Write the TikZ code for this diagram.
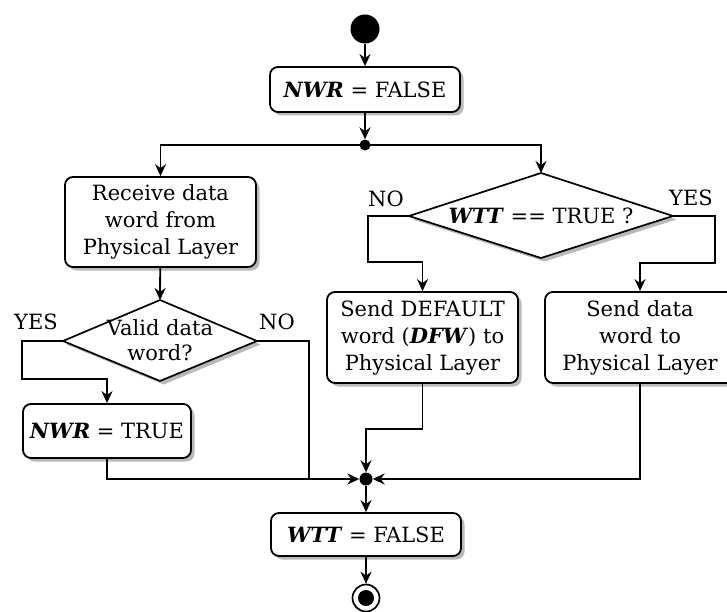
\documentclass[tikz,border=0pt]{standalone}
\usepackage{fontspec}
\setmainfont{DejaVu Serif}
\usetikzlibrary{arrows.meta,shadows}

\newcommand{\varname}[1]{\textbf{\textit{#1}}}

\tikzset{
  shade box/.style={drop shadow={shadow xshift=3.5pt, shadow yshift=-3.5pt, fill=gray!55, opacity=1}},
  actbox/.style={draw, line width=1.8pt, fill=white, rounded corners=8pt, shade box,
    inner sep=0pt, align=center, font=\fontsize{21}{27}\selectfont},
  decision/.style={draw, line width=1.7pt, fill=white, line join=miter, shade box},
  txt/.style={inner sep=0pt, align=center, font=\fontsize{21}{25}\selectfont},
  flow/.style={line width=1.8pt, -{Stealth[length=12pt, width=11pt, inset=4pt]}},
  plain/.style={line width=1.8pt},
  dot/.style={circle, fill=black, inner sep=0pt},
}

\begin{document}
\begin{tikzpicture}[x=1pt, y=-1pt]
\useasboundingbox (0,0) rectangle (727,612);

% start / initial node
\node[dot, minimum size=29pt] (start) at (365,29) {};

% first action
\node[actbox, minimum width=190pt, minimum height=45pt] (nwrf) at (365,89.5) {\varname{NWR} = FALSE};

% fork point
\node[dot, minimum size=11pt] (fork) at (365,145) {};

% left branch: receive
\node[actbox, minimum width=191pt, minimum height=90pt] (recv) at (160.5,222)
  {Receive data\\word from\\Physical Layer};

% decision: valid data word?
\coordinate (vT) at (160,300);
\coordinate (vR) at (257,341);
\coordinate (vB) at (160,381);
\coordinate (vL) at (63,341);
\draw[decision] (vT) -- (vR) -- (vB) -- (vL) -- cycle;
\node[txt] (vtxt) at (160,340) {Valid data\\word?};
\node[txt] (vyes) at (36,322) {YES};
\node[txt] (vno) at (277,322) {NO};

\node[actbox, minimum width=168pt, minimum height=54pt] (nwrt) at (107,431) {\varname{NWR} = TRUE};

% right branch: decision WTT
\coordinate (wT) at (541,173);
\coordinate (wR) at (673,216);
\coordinate (wB) at (541,258);
\coordinate (wL) at (409,216);
\draw[decision] (wT) -- (wR) -- (wB) -- (wL) -- cycle;
\node[txt] (wtxt) at (541,216) {\varname{WTT} == TRUE ?};
\node[txt] (wno) at (386,199) {NO};
\node[txt] (wyes) at (691,198) {YES};

\node[actbox, minimum width=191pt, minimum height=91pt] (dfw) at (422.5,337.5)
  {Send DEFAULT\\word (\varname{DFW}) to\\Physical Layer};
\node[actbox, minimum width=190pt, minimum height=91pt] (send) at (640,337.5)
  {Send data\\word to\\Physical Layer};

% merge point
\node[dot, minimum size=13pt] (merge) at (366,479) {};

% final action
\node[actbox, minimum width=190pt, minimum height=43pt] (wttf) at (366,534.5) {\varname{WTT} = FALSE};

% end node
\node[circle, draw, line width=1.7pt, fill=white, minimum size=27pt, inner sep=0pt] (end) at (366,598) {};
\node[dot, minimum size=16pt] (endin) at (end.center) {};

% helper points for the orthogonal routes
\coordinate (yesL) at (22,341);
\coordinate (yesB) at (22,379);
\coordinate (noR) at (309,341);
\coordinate (noB) at (309,479);
\coordinate (wnoL) at (368,216);
\coordinate (wnoB) at (368,262);
\coordinate (wyesR) at (715,216);
\coordinate (wyesB) at (715,263);
\coordinate (dfwB) at (dfw.south |- 0,429);

% connectors
\draw[flow] (start) -- (nwrf);
\draw[flow] (nwrf) -- (fork);
\draw[flow] (fork.center) -| (recv.north);
\draw[flow] (fork.center) -| (wT);
\draw[flow] (recv) -- (vT);
\draw[flow] (vL) -- (yesL) -- (yesB) -| (nwrt.north);
\draw[plain] (vR) -- (noR) -- (noB);
\draw[flow] (nwrt.south) |- (merge.west);
\draw[flow] (wL) -- (wnoL) -- (wnoB) -| (dfw.north);
\draw[flow] (wR) -- (wyesR) -- (wyesB) -| (send.north);
\draw[flow] (dfw.south) -- (dfwB) -| (merge.north);
\draw[flow] (send.south) |- (merge.east);
\draw[flow] (merge) -- (wttf);
\draw[flow] (wttf) -- (end);
\end{tikzpicture}
\end{document}
